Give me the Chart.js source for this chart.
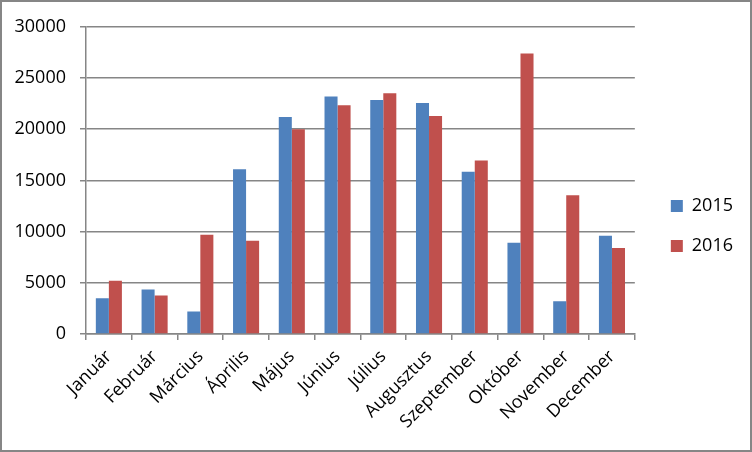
<!DOCTYPE html>
<html>
<head>
<meta charset="utf-8">
<script src="https://cdn.jsdelivr.net/npm/chart.js@4"></script>
<style>
    body { margin: 0; background: #fff; }
    #wrap { width: 752px; height: 452px; box-sizing: border-box; border: 2px solid #868686; }
</style>
</head>
<body>
<div id="wrap"><canvas id="chart" width="748" height="448"></canvas></div>
<script>
// Honapok es ertekek
const months = ['Január', 'Február', 'Március', 'Április', 'Május', 'Június', 'Július', 'Augusztus', 'Szeptember', 'Október', 'November', 'December'];
const values2015 = [3500, 4350, 2200, 16100, 21200, 23200, 22850, 22550, 15850, 8900, 3200, 9600];
const values2016 = [5200, 3750, 9700, 9100, 20000, 22350, 23500, 21300, 16950, 27400, 13550, 8400];
const yTicks = [0, 5000, 10000, 15000, 20000, 25000, 30000];

const gridColor = '#868686';
const fontSpec = { family: 'Open Sans', size: 18 };

// decale la legende un peu a droite et vers le haut
const legendShift = {
    id: 'legendShift',
    afterLayout(chart) {
        const lg = chart.legend;
        lg.left += 14; lg.right += 14;
        lg.top -= 5; lg.bottom -= 5;
    }
};

document.addEventListener('DOMContentLoaded', function () {
    const ctx = document.getElementById('chart').getContext('2d');

    new Chart(ctx, {
        type: 'bar',
        data: {
            labels: months,
            datasets: [{
                label: '2015',
                data: values2015,
                backgroundColor: '#4F81BD'
            }, {
                label: '2016',
                data: values2016,
                backgroundColor: '#C0504D'
            }]
        },
        options: {
            responsive: false,
            animation: false,
            categoryPercentage: 0.57,
            barPercentage: 1,
            layout: { padding: { left: 0, top: 10, right: 21, bottom: 0 } },
            plugins: {
                tooltip: { enabled: false },
                legend: {
                    position: 'right',
                    labels: {
                        boxWidth: 12,
                        boxHeight: 12,
                        padding: 22,
                        color: '#000',
                        font: fontSpec
                    }
                }
            },
            scales: {
                x: {
                    afterFit: function (scale) { scale.height = 448 - 332; },
                    grid: { drawOnChartArea: false, offset: true, color: gridColor, tickLength: 6, lineWidth: 1.5 },
                    border: { color: gridColor, width: 1.5 },
                    ticks: { color: '#000', font: fontSpec, minRotation: 45, maxRotation: 45, autoSkip: false, padding: 6 }
                },
                y: {
                    min: 0,
                    max: 30000,
                    afterFit: function (scale) { scale.width = 84; },
                    afterBuildTicks: function (scale) { scale.ticks = yTicks.map(v => ({ value: v })); },
                    grid: { color: gridColor, tickLength: 6, lineWidth: 1.5 },
                    border: { color: gridColor, width: 1.5 },
                    ticks: { color: '#000', font: fontSpec, padding: 14, callback: v => String(v) }
                }
            }
        },
        plugins: [legendShift]
    });
});
</script>
</body>
</html>
